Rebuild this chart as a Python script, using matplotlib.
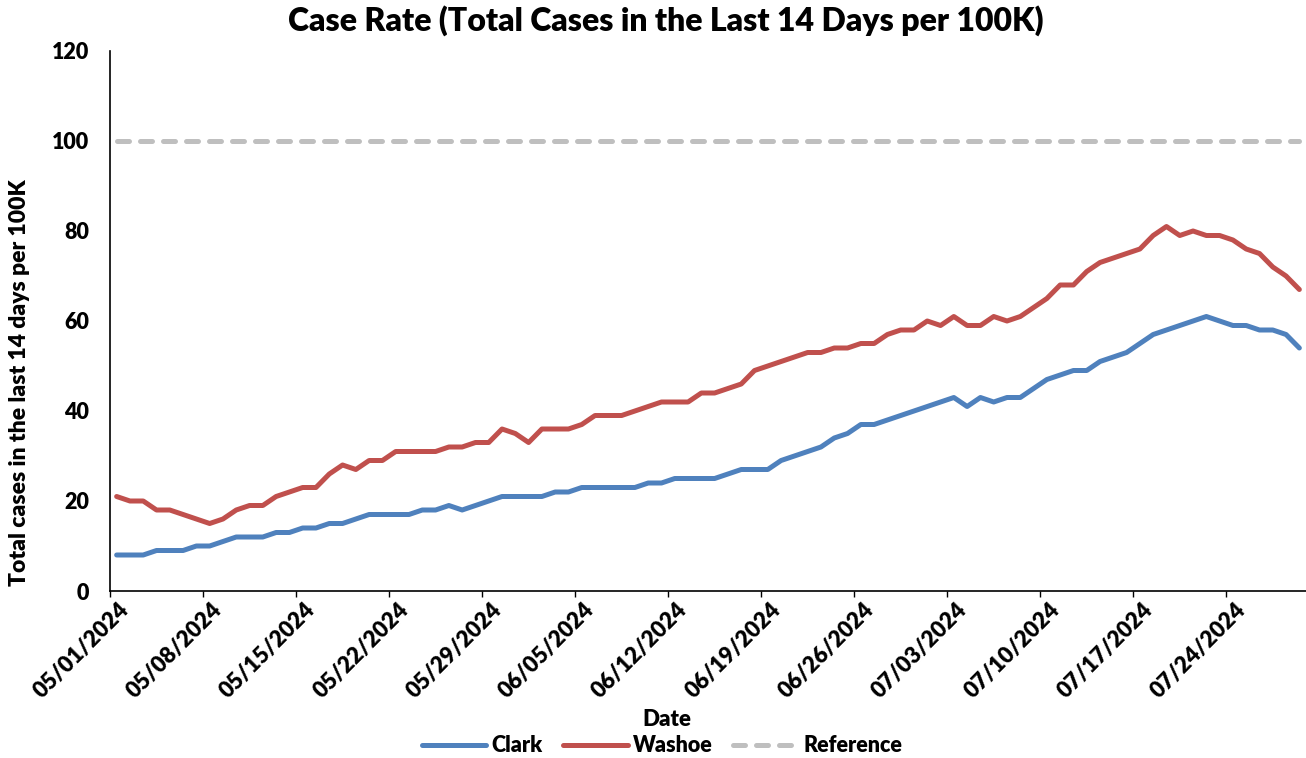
import matplotlib
matplotlib.use("Agg")
import matplotlib.pyplot as plt
import matplotlib.dates as mdates
import matplotlib.transforms as mtransforms
import pandas as pd

plt.rcParams['font.family'] = ['Lato', 'DejaVu Sans']
plt.rcParams['font.weight'] = 'heavy'

# daily case rate, 05/01/2024 - 07/29/2024
dates = pd.date_range("2024-05-01", periods=90, freq="D")
clark = [8, 8, 8, 9, 9, 9, 10, 10, 11, 12,
         12, 12, 13, 13, 14, 14, 15, 15, 16, 17,
         17, 17, 17, 18, 18, 19, 18, 19, 20, 21,
         21, 21, 21, 22, 22, 23, 23, 23, 23, 23,
         24, 24, 25, 25, 25, 25, 26, 27, 27, 27,
         29, 30, 31, 32, 34, 35, 37, 37, 38, 39,
         40, 41, 42, 43, 41, 43, 42, 43, 43, 45,
         47, 48, 49, 49, 51, 52, 53, 55, 57, 58,
         59, 60, 61, 60, 59, 59, 58, 58, 57, 54]
washoe = [21, 20, 20, 18, 18, 17, 16, 15, 16, 18,
          19, 19, 21, 22, 23, 23, 26, 28, 27, 29,
          29, 31, 31, 31, 31, 32, 32, 33, 33, 36,
          35, 33, 36, 36, 36, 37, 39, 39, 39, 40,
          41, 42, 42, 42, 44, 44, 45, 46, 49, 50,
          51, 52, 53, 53, 54, 54, 55, 55, 57, 58,
          58, 60, 59, 61, 59, 59, 61, 60, 61, 63,
          65, 68, 68, 71, 73, 74, 75, 76, 79, 81,
          79, 80, 79, 79, 78, 76, 75, 72, 70, 67]
ref_value = 100
tick_dates = pd.date_range("2024-05-01", "2024-07-24", freq="7D")
y_ticks = [0, 20, 40, 60, 80, 100, 120]

# points sit in the middle of each day slot
x = dates + pd.Timedelta(hours=12)

fig = plt.figure(figsize=(13.06, 7.58), dpi=100)
ax = fig.add_axes([110 / 1306, 1 - 591 / 758, 1 - 110 / 1306, (591 - 51) / 758])

l1, = ax.plot(x, clark, color="#4F81BD", lw=3.6, solid_capstyle="round", solid_joinstyle="round", label="Clark")
l2, = ax.plot(x, washoe, color="#C0504D", lw=3.6, solid_capstyle="round", solid_joinstyle="round", label="Washoe")
l3, = ax.plot(x, [ref_value] * len(x), color="#BFBFBF", lw=3.6, dashes=(2.4, 2.2),
              dash_capstyle="round", label="Reference")

ax.set_xlim(dates[0], dates[-1] + pd.Timedelta(days=1))
ax.set_ylim(0, 120)
ax.set_yticks(y_ticks)
ax.set_xticks(tick_dates)
ax.xaxis.set_major_formatter(mdates.DateFormatter("%m/%d/%Y"))

for s in ["top", "right"]:
    ax.spines[s].set_visible(False)
for s in ["left", "bottom"]:
    ax.spines[s].set_linewidth(1.2)
ax.tick_params(axis="y", length=0, pad=15, labelsize=15.5)
ax.tick_params(axis="x", length=4, width=1, pad=2, labelsize=16)

offset = mtransforms.ScaledTranslation(6 / 72, 0, fig.dpi_scale_trans)
for lab in ax.get_xticklabels():
    lab.set_rotation(45)
    lab.set_ha("right")
    lab.set_va("top")
    lab.set_rotation_mode("anchor")
    lab.set_transform(lab.get_transform() + offset)

fig.text(666 / 1306, 1 - 21 / 758, "Case Rate (Total Cases in the Last 14 Days per 100K)",
         ha="center", va="center", fontsize=23)
fig.text(667 / 1306, 1 - 719 / 758, "Date", ha="center", va="center", fontsize=16)
fig.text(20 / 1306, 1 - 383 / 758, "Total cases in the last 14 days per 100K", rotation=90,
         ha="center", va="center", fontsize=16.5)

fig.legend(handles=[l1, l2, l3], loc="center", bbox_to_anchor=(662 / 1306, 1 - 746 / 758),
           ncol=3, frameon=False, fontsize=15.5, handlelength=3.0, handletextpad=0.25,
           columnspacing=0.95)

fig.savefig("out.png", dpi=100)
